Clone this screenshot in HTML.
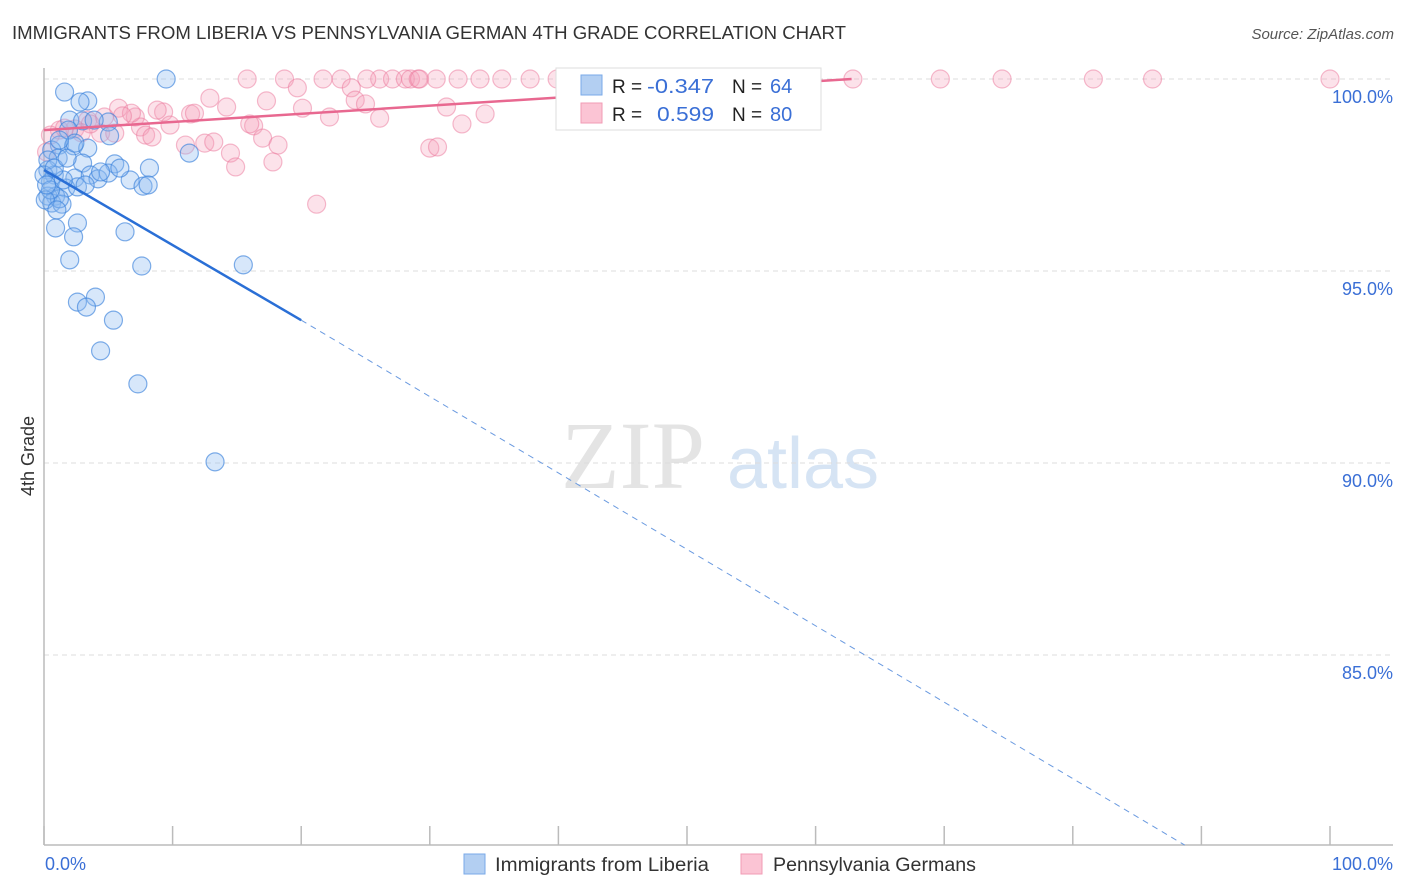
<!DOCTYPE html>
<html><head><meta charset="utf-8">
<style>
body{margin:0;background:#fff;font-family:"Liberation Sans",sans-serif;}
svg{display:block}
</style></head>
<body>
<svg id="chart" width="1406" height="892" xmlns="http://www.w3.org/2000/svg">
<text x="12" y="39" font-size="18" fill="#333" textLength="834" lengthAdjust="spacingAndGlyphs">IMMIGRANTS FROM LIBERIA VS PENNSYLVANIA GERMAN 4TH GRADE CORRELATION CHART</text>
<text x="1394" y="39" font-size="15" fill="#555" font-style="italic" text-anchor="end">Source: ZipAtlas.com</text>
<g>
<text x="633" y="488" font-size="96" fill="#e4e4e4" text-anchor="middle" font-family="Liberation Serif, serif">ZIP</text>
<text x="803" y="488" font-size="72" fill="#d6e4f4" text-anchor="middle">atlas</text>
</g>
<g id="grid"></g>
<g id="axes"></g>
<g id="pts"></g>
<g id="lines"></g>
<text transform="translate(34,456) rotate(-90)" font-size="18" fill="#333" text-anchor="middle">4th Grade</text>
<g>
<rect x="556" y="68" width="265" height="62" fill="#fff" stroke="#ddd"/>
<rect x="581" y="75" width="21" height="20" fill="#b3cff2" stroke="#7aaae8"/>
<rect x="581" y="103" width="21" height="20" fill="#fbc4d4" stroke="#f29bb5"/>
<text x="612" y="93" font-size="19" fill="#222">R =</text>
<text x="647" y="93" font-size="20" fill="#3a6fd6" textLength="67" lengthAdjust="spacingAndGlyphs">-0.347</text>
<text x="732" y="93" font-size="19" fill="#222">N =</text>
<text x="770" y="93" font-size="20" fill="#3a6fd6">64</text>
<text x="612" y="121" font-size="19" fill="#222">R =</text>
<text x="657" y="121" font-size="20" fill="#3a6fd6" textLength="57" lengthAdjust="spacingAndGlyphs">0.599</text>
<text x="732" y="121" font-size="19" fill="#222">N =</text>
<text x="770" y="121" font-size="20" fill="#3a6fd6">80</text>
</g>
<g>
<rect x="464" y="854" width="21" height="20" fill="#b3cff2" stroke="#7aaae8"/>
<text x="495" y="871" font-size="19" fill="#333" textLength="214" lengthAdjust="spacingAndGlyphs">Immigrants from Liberia</text>
<rect x="741" y="854" width="21" height="20" fill="#fbc4d4" stroke="#f29bb5"/>
<text x="773" y="871" font-size="19" fill="#333" textLength="203" lengthAdjust="spacingAndGlyphs">Pennsylvania Germans</text>
</g>
</svg>
<script>
const yTicks=[100,95,90,85];
const yTickLabels=["100.0%","95.0%","90.0%","85.0%"];
const xTickVals=[0,10,20,30,40,50,60,70,80,90,100];
const blueX=[9.5,1.6,3.4,2.8,2.0,3.0,5.0,1.2,2.3,3.4,0.6,1.1,3.0,5.5,8.2,0.3,0.8,2.4,3.6,4.2,5.0,6.7,7.7,8.1,0.5,1.7,2.6,0.9,0.3,0.6,1.4,1.2,0.9,2.6,6.3,2.3,2.0,7.6,15.5,2.6,4.0,3.3,5.4,4.4,7.3,13.3,11.3,5.1,0.3,0.0,0.5,1.9,1.5,0.8,0.1,3.9,1.8,4.4,2.4,1.0,0.2,3.2,5.9,1.2];
const blueY=[100,99.66,99.43,99.4,98.93,98.91,98.88,98.28,98.26,98.2,98.15,97.94,97.81,97.79,97.68,97.63,97.5,97.42,97.5,97.4,97.55,97.37,97.21,97.24,97.32,97.16,97.19,96.95,96.95,96.77,96.74,96.88,96.12,96.25,96.02,95.89,95.29,95.13,95.16,94.19,94.32,94.06,93.72,92.92,92.06,90.03,98.07,98.52,97.89,97.5,97.11,98.67,97.37,97.68,96.85,98.93,97.94,97.58,98.33,96.59,97.24,97.24,97.68,98.41];
const pinkX=[15.8,18.7,21.7,23.1,26.1,27.1,28.1,28.5,29.1,30.5,32.2,33.9,35.6,37.8,39.9,43.2,45.2,46.3,49.5,51.0,54.1,55.7,58.8,62.9,69.7,74.5,81.6,86.2,100,25.1,29.2,23.9,19.7,24.2,25.0,14.2,12.9,17.3,20.1,9.3,8.8,5.8,7.1,11.4,11.7,22.2,26.1,31.3,34.3,32.5,16.3,4.7,3.4,7.5,9.8,7.9,8.4,4.4,2.4,1.2,5.5,11.0,12.5,13.2,14.5,14.9,17.0,18.2,17.8,21.2,30.0,30.6,16.0,0.5,1.6,3.6,6.8,6.1,0.2,2.9];
const pinkY=[100,100,100,100,100,100,100,100,100,100,100,100,100,100,100,100,100,100,100,100,100,100,100,100,100,100,100,100,100,100,100,99.77,99.77,99.45,99.35,99.27,99.5,99.43,99.24,99.14,99.19,99.24,99.01,99.09,99.11,99.01,98.98,99.27,99.09,98.83,98.78,99.01,98.93,98.75,98.8,98.54,98.49,98.59,98.7,98.67,98.59,98.28,98.33,98.36,98.07,97.71,98.46,98.28,97.84,96.74,98.2,98.23,98.83,98.54,98.72,98.83,99.11,99.04,98.1,98.6];
const blueTrend=[[0,97.63],[20,93.72],[88.7,80.05]];
const pinkTrend=[[0,98.67],[62.8,100]];
const NS="http://www.w3.org/2000/svg";
const X0=44,X1=1330,Y100=79,PXP=38.4,YB=845;
const sx=v=>X0+(X1-X0)*v/100;
const sy=v=>Y100+(100-v)*PXP;
function mk(t,a,p){const e=document.createElementNS(NS,t);for(const k in a)e.setAttribute(k,a[k]);p.appendChild(e);return e;}
const grid=document.getElementById('grid'),axes=document.getElementById('axes'),pts=document.getElementById('pts'),lines=document.getElementById('lines');
yTicks.forEach((v,i)=>{
 const l=mk('line',{x1:X0,x2:1393,y1:sy(v),y2:sy(v),stroke:'#ddd','stroke-dasharray':'5,4'},grid);
 
 
 const t=mk('text',{x:1393,y:sy(v)+24,'font-size':18,fill:'#3a6fd6','text-anchor':'end'},axes);
 t.textContent=yTickLabels[i];
 
 
});
const la=mk('line',{x1:X0,x2:X0,y1:68,y2:YB,stroke:'#bbb','stroke-width':1.5},axes);


const ba=mk('line',{x1:X0,x2:1393,y1:YB,y2:YB,stroke:'#bbb','stroke-width':1.5},axes);


xTickVals.forEach(v=>{
 const t=mk('line',{x1:sx(v),x2:sx(v),y1:826,y2:YB,stroke:'#bbb','stroke-width':1.5},axes);
 
 
});
const xl0=mk('text',{x:45,y:870,'font-size':18,fill:'#3a6fd6'},axes);xl0.textContent='0.0%';


const xl1=mk('text',{x:1393,y:870,'font-size':18,fill:'#3a6fd6','text-anchor':'end'},axes);xl1.textContent='100.0%';


pinkX.forEach((v,i)=>{
 const c=mk('circle',{cx:sx(v),cy:sy(pinkY[i]),r:9,fill:'rgba(246,160,186,0.3)',stroke:'rgba(236,120,155,0.5)','stroke-width':1.2},pts);
 
 
});
blueX.forEach((v,i)=>{
 const c=mk('circle',{cx:sx(v),cy:sy(blueY[i]),r:9,fill:'rgba(140,185,240,0.35)',stroke:'rgba(60,130,220,0.65)','stroke-width':1.2},pts);
 
 
});
const b1=mk('line',{x1:sx(blueTrend[0][0]),y1:sy(blueTrend[0][1]),x2:sx(blueTrend[1][0]),y2:sy(blueTrend[1][1]),stroke:'#2a6fd6','stroke-width':2.5},lines);


const b2=mk('line',{x1:sx(blueTrend[1][0]),y1:sy(blueTrend[1][1]),x2:sx(blueTrend[2][0]),y2:sy(blueTrend[2][1]),stroke:'#6a9ae0','stroke-width':1,'stroke-dasharray':'6,5'},lines);


const p1=mk('line',{x1:sx(pinkTrend[0][0]),y1:sy(pinkTrend[0][1]),x2:sx(pinkTrend[1][0]),y2:sy(pinkTrend[1][1]),stroke:'#e86890','stroke-width':2.5},lines);


</script>
</body></html>
